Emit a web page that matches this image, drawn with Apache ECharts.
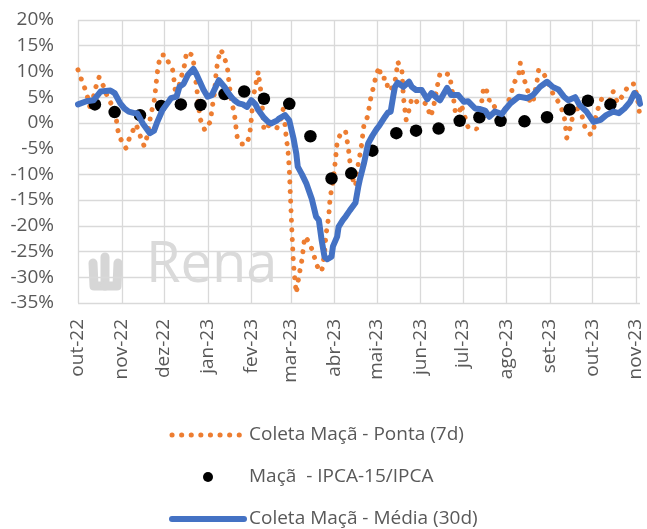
<!DOCTYPE html>
<html>
<head>
<meta charset="utf-8">
<script src="https://cdn.jsdelivr.net/npm/echarts@6/dist/echarts.min.js"></script>
<style>
  html, body { margin: 0; padding: 0; background: #fff; }
  #chart { width: 647px; height: 529px; }
</style>
</head>
<body>
<div id="chart"></div>
<script>
// eixo x: dias contados a partir de 01/10/2022
const monthLabels = ["jan", "fev", "mar", "abr", "mai", "jun", "jul", "ago", "set", "out", "nov", "dez"];
const yTicks = { min: -35, max: 20, step: 5 };
const lastDay = 399;

// Coleta Maçã - Ponta (7d)
const pontaDays = [0, 3, 6, 9, 12, 15, 18, 21, 24, 27, 28, 30, 34, 36, 39, 41, 43, 45, 47, 49, 52, 54, 55, 56, 57, 59, 62, 65, 67, 68, 69, 70, 72, 74, 76, 77, 81, 82, 83, 84, 85, 86, 87, 90, 92, 94, 95, 97, 98, 99, 101, 103, 106, 107, 109, 111, 112, 113, 116, 120, 122, 123, 124, 125, 127, 128, 129, 130, 131, 132, 135, 138, 141, 144, 146, 147, 148, 149, 150, 151, 152, 153, 154, 155, 157, 159, 161, 164, 167, 169, 171, 173, 175, 176, 178, 179, 181, 182, 183, 184, 187, 190, 192, 194, 196, 197, 199, 201, 203, 206, 207, 209, 212, 214, 215, 219, 220, 222, 225, 226, 227, 230, 231, 232, 233, 235, 237, 240, 243, 248, 250, 252, 255, 257, 259, 264, 265, 267, 268, 271, 272, 277, 283, 285, 287, 288, 290, 292, 294, 297, 300, 303, 307, 309, 313, 314, 315, 316, 319, 321, 323, 326, 327, 330, 337, 341, 345, 346, 347, 349, 351, 353, 358, 360, 364, 366, 367, 369, 372, 375, 378, 380, 383, 387, 391, 395, 398, 399];
const pontaVals = [10.3, 8.0, 5.9, 2.4, 6.4, 8.9, 7.2, 5.0, 3.5, 1.2, -1.1, -3.0, -4.9, -3.3, -1.5, -0.3, -1.4, -3.3, -4.5, -2.7, 2.0, 4.1, 6.4, 9.0, 11.3, 13.2, 13.2, 11.3, 10.6, 8.7, 6.4, 5.2, 7.5, 9.6, 11.6, 13.8, 13.2, 11.9, 9.6, 7.4, 5.1, 2.5, 0.6, -1.4, -0.5, 0.2, 2.5, 6.0, 9.6, 11.6, 14.2, 13.5, 10.9, 8.3, 4.1, 1.9, -0.5, -2.7, -4.1, -4.1, -2.0, 0.6, 3.8, 5.8, 8.5, 10.0, 7.7, 5.8, 2.5, -1.4, -0.5, -0.8, -1.1, 0.8, 3.0, -0.5, -3.3, -5.0, -9.0, -15.5, -22.0, -27.5, -30.5, -33.1, -29.5, -26.6, -22.1, -23.1, -25.2, -27.3, -28.5, -28.9, -25.5, -21.8, -18.2, -14.5, -11.5, -9.2, -6.6, -3.7, -1.7, -1.7, -5.0, -9.8, -11.7, -12.3, -7.9, -4.9, -0.4, 1.5, 3.8, 6.1, 9.6, 10.9, 8.7, 8.7, 6.4, 6.4, 8.0, 9.6, 11.9, 10.0, 5.1, 2.8, 0.6, 2.5, 4.8, 4.1, 4.4, 3.5, 1.2, 2.5, 7.0, 9.6, 9.8, 9.3, 7.2, 4.0, 1.8, 2.2, 3.6, -0.9, -1.2, 1.5, 4.8, 7.0, 6.4, 4.4, 4.4, 2.2, 1.5, 2.5, 5.1, 7.4, 9.6, 11.6, 10.9, 9.0, 6.7, 3.8, 4.0, 8.3, 10.3, 10.0, 5.8, 4.1, 1.7, -0.4, -2.9, -1.4, 1.0, 3.5, 1.2, -0.9, -2.3, -1.7, 0.6, 2.6, 4.8, 4.8, 4.4, 6.1, 3.9, 5.4, 7.4, 7.6, 3.5, 0.8];

// Maçã - IPCA-15/IPCA
const ipcaDays = [12, 26, 44, 59, 73, 87, 104, 118, 132, 150, 165, 180, 194, 209, 226, 240, 256, 271, 285, 300, 317, 333, 349, 362, 378];
const ipcaVals = [3.6, 2.1, 1.5, 3.3, 3.6, 3.5, 5.6, 6.1, 4.7, 3.7, -2.6, -10.8, -9.8, -5.4, -2.0, -1.5, -1.1, 0.4, 1.1, 0.4, 0.3, 1.1, 2.6, 4.3, 3.6];

// Coleta Maçã - Média (30d)
const mediaDays = [0, 6, 11, 16, 23, 26, 30, 33, 36, 40, 42, 46, 51, 54, 56, 60, 64, 66, 70, 72, 75, 78, 82, 84, 87, 89, 92, 95, 100, 104, 106, 109, 111, 114, 117, 120, 123, 126, 128, 132, 135, 137, 141, 143, 147, 150, 153, 155, 156, 159, 162, 166, 169, 171, 173, 175, 177, 180, 181, 184, 185, 188, 190, 193, 197, 199, 200, 203, 205, 206, 209, 212, 214, 218, 220, 222, 224, 225, 227, 231, 235, 237, 240, 244, 248, 251, 255, 257, 262, 265, 270, 274, 277, 282, 285, 289, 292, 296, 301, 303, 307, 313, 319, 323, 328, 333, 337, 341, 345, 348, 353, 356, 361, 366, 371, 375, 380, 384, 388, 392, 395, 398, 399];
const mediaVals = [3.6, 4.2, 4.4, 6.1, 6.3, 5.8, 3.8, 2.8, 2.2, 1.9, 1.9, -0.1, -2.0, -1.5, 0.0, 2.5, 4.0, 4.8, 5.1, 7.0, 7.6, 9.3, 10.5, 9.5, 7.7, 6.5, 5.1, 5.4, 8.3, 7.0, 6.1, 5.0, 4.4, 3.8, 3.6, 3.1, 4.4, 3.6, 2.5, 1.0, 0.2, -0.1, 0.4, 0.9, 1.5, 0.5, -3.0, -6.0, -8.5, -10.0, -11.7, -14.8, -18.2, -18.9, -22.8, -26.0, -26.5, -26.0, -24.0, -22.1, -20.2, -18.9, -18.2, -17.0, -15.5, -12.4, -11.1, -7.9, -5.3, -4.0, -2.5, -1.2, -0.5, 1.2, 2.0, 2.2, 5.5, 7.0, 7.8, 7.0, 8.0, 7.0, 6.4, 6.4, 4.6, 5.8, 4.8, 4.4, 6.8, 5.4, 5.4, 4.1, 4.2, 2.8, 2.7, 2.4, 1.2, 2.2, 1.7, 2.5, 3.8, 5.1, 4.8, 5.4, 7.0, 8.0, 7.0, 6.5, 5.1, 4.4, 5.0, 3.5, 2.2, 0.2, 0.6, 1.5, 2.2, 1.9, 2.8, 4.1, 5.8, 5.0, 3.7];

// categorias diárias (1 por dia) a partir de 01/10/2022
const dates = Array.from({ length: lastDay + 1 }, (_, i) => new Date(2022, 9, 1 + i));
const dayCats = dates.map((d, i) => String(i));
const isMonthStart = idx => dates[idx].getDate() === 1;
const monthStartIdx = dates.map((d, i) => i).filter(isMonthStart);
const pairs = (days, vals) => days.map((d, i) => [d, vals[i]]);

const txtColor = "#595959";
const gridColor = "#d9d9d9";
const fontFamily = "'Open Sans', sans-serif";
const orangeDots = { color: "#ED7D31", width: 5, type: [0.1, 9.5], cap: "round" };
const markStyle = { fill: "none", stroke: "#d6d6d6", lineWidth: 9, lineCap: "round", lineJoin: "round" };

// marca d'água
const watermark = [
  { id: "wm1", type: "polyline", z: 0, shape: { points: [[93, 263], [94, 286], [105, 286], [105, 257]] }, style: markStyle },
  { id: "wm2", type: "polyline", z: 0, shape: { points: [[105, 286], [117, 286], [118, 263]] }, style: markStyle },
  { id: "wm3", type: "text", left: 146, top: 238, z: 0, style: { text: "Rena", fontSize: 56, fontFamily: fontFamily, fill: "#dadada" } }
];

const chart = echarts.init(document.getElementById("chart"));

chart.setOption({
  backgroundColor: "#fff",
  animation: false,
  textStyle: { fontFamily: fontFamily },
  grid: { left: 78, right: 7, top: 20, bottom: 226 },
  xAxis: {
    type: "category",
    data: dayCats,
    boundaryGap: false,
    axisLine: { show: false },
    axisTick: { show: false },
    axisLabel: {
      interval: isMonthStart,
      rotate: 90,
      margin: 16,
      color: txtColor,
      fontSize: 19,
      fontFamily: fontFamily,
      formatter: v => {
        const d = dates[Number(v)];
        return monthLabels[d.getMonth()] + "-" + String(d.getFullYear()).slice(2);
      }
    },
    splitLine: { show: false }
  },
  yAxis: {
    type: "value",
    min: yTicks.min,
    max: yTicks.max,
    interval: yTicks.step,
    axisLine: { show: false },
    axisTick: { show: false },
    axisLabel: {
      margin: 24,
      color: txtColor,
      fontSize: 19,
      fontFamily: fontFamily,
      formatter: "{value}%"
    },
    splitLine: { lineStyle: { color: gridColor, width: 1.3 } }
  },
  legend: {
    orient: "vertical",
    left: 164,
    top: 420,
    height: 108,
    itemWidth: 72,
    itemHeight: 10,
    itemGap: 22,
    textStyle: { color: txtColor, fontSize: 19, lineHeight: 20, fontFamily: fontFamily },
    data: [
      { name: "Coleta Maçã - Ponta (7d)", itemStyle: { opacity: 0 }, lineStyle: orangeDots },
      { name: "Maçã  - IPCA-15/IPCA", icon: "circle", itemStyle: { color: "#000", opacity: 1 } },
      { name: "Coleta Maçã - Média (30d)", itemStyle: { opacity: 0 }, lineStyle: { width: 6, cap: "round" } }
    ]
  },
  graphic: watermark,
  series: [
    {
      name: "Coleta Maçã - Ponta (7d)",
      type: "line",
      data: pairs(pontaDays, pontaVals),
      symbol: "none",
      z: 2,
      lineStyle: orangeDots,
      itemStyle: { color: "#ED7D31" }
    },
    {
      name: "Maçã  - IPCA-15/IPCA",
      type: "scatter",
      data: pairs(ipcaDays, ipcaVals),
      symbolSize: 12.5,
      z: 3,
      itemStyle: { color: "#000", opacity: 1 }
    },
    {
      name: "Coleta Maçã - Média (30d)",
      type: "line",
      data: pairs(mediaDays, mediaVals),
      symbol: "none",
      z: 4,
      lineStyle: { color: "#4472C4", width: 6, join: "round", cap: "round" },
      itemStyle: { color: "#4472C4" }
    }
  ]
});

// linhas de grade verticais (início de cada mês), posicionadas pelas escalas do próprio gráfico
const yTop = chart.convertToPixel({ yAxisIndex: 0 }, yTicks.max);
const yBottom = chart.convertToPixel({ yAxisIndex: 0 }, yTicks.min);
const monthLines = monthStartIdx.map(i => {
  const x = Math.round(chart.convertToPixel({ xAxisIndex: 0 }, i)) + 0.5;
  return {
    id: "vgrid" + i,
    type: "polyline",
    z: 0,
    silent: true,
    shape: { points: [[x, yTop], [x, yBottom]] },
    style: { fill: "none", stroke: gridColor, lineWidth: 1.3 }
  };
});

chart.setOption({ graphic: watermark.concat(monthLines) });
</script>
</body>
</html>
